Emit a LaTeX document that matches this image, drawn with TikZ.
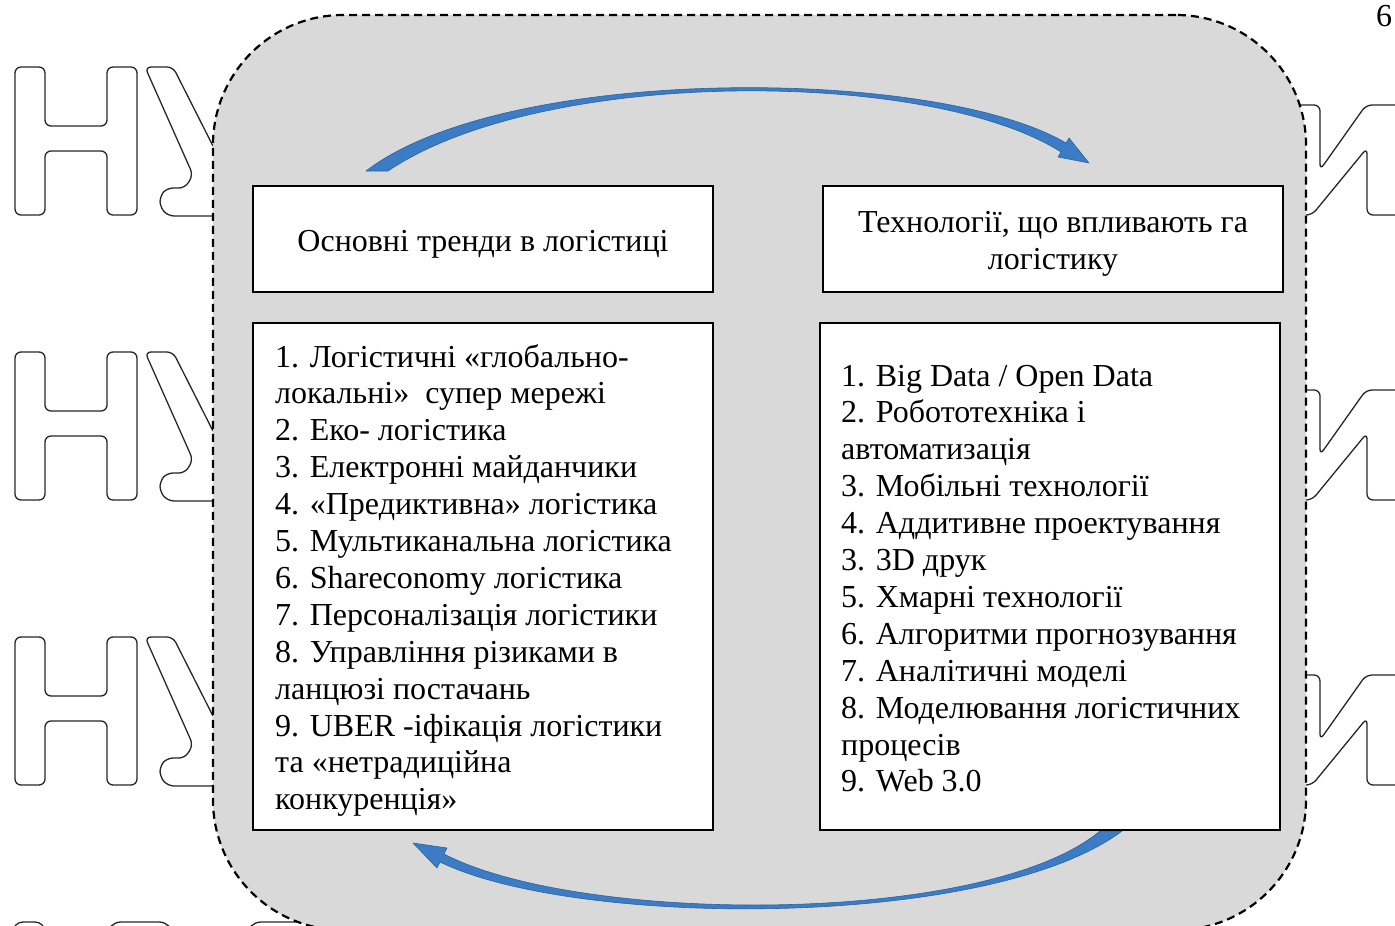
\documentclass[tikz,border=0pt]{standalone}
\usepackage{fontspec}
\setmainfont{Liberation Serif}
\usetikzlibrary{calc}

\definecolor{panelgray}{HTML}{D9D9D9}
\definecolor{arrowblue}{HTML}{3B7CC4}
\definecolor{arrowedge}{HTML}{2C63A0}
\definecolor{markink}{HTML}{262626}

\tikzset{
  panel/.style={fill=panelgray, draw=black, line width=2.2pt,
                dash pattern=on 8pt off 5pt, rounded corners=130pt, inner sep=0pt},
  box/.style={draw=black, line width=2pt, fill=white, inner sep=0pt},
  headtext/.style={anchor=base, inner sep=0pt, font=\fontsize{32}{37.5}\selectfont},
  listtext/.style={anchor=base west, inner sep=0pt, font=\fontsize{32}{36.9}\selectfont},
  flow/.style={fill=arrowblue, draw=arrowedge, line width=0.6pt, line join=round},
  wmark/.style={draw=markink, line width=1.3pt, rounded corners=6pt}
}

\begin{document}
\begin{tikzpicture}[x=1pt,y=-1pt]
\useasboundingbox (0,0) rectangle (1395,926);

% outlined background lettering
\foreach \r in {0,285,570}{
  % Н
  \draw[wmark] (15,67+\r) -- (45,67+\r) -- (45,126+\r) -- (107,126+\r) -- (107,67+\r)
    -- (137,67+\r) -- (137,215+\r) -- (107,215+\r) -- (107,151+\r) -- (45,151+\r)
    -- (45,215+\r) -- (15,215+\r) -- cycle;
  % У
  \draw[wmark] (145,67+\r) -- (173,67+\r) -- (215,150+\r) -- (260,150+\r) -- (260,216+\r)
    -- (168,216+\r) -- (160,207+\r) -- (160,196+\r) -- (167,188+\r) -- (185,188+\r)
    -- (193,175+\r) -- cycle;
  % и
  \draw[wmark] (1285,105+\r) -- (1320,105+\r) -- (1320,170+\r) -- (1366,105+\r)
    -- (1402,105+\r) -- (1402,215+\r) -- (1367,215+\r) -- (1367,148+\r)
    -- (1312,215+\r) -- (1285,215+\r) -- cycle;
}
\draw[wmark, rounded corners=10pt] (13,1000) -- (13,922) -- (45,922) -- (45,1000);
\draw[wmark, rounded corners=14pt] (107,1000) -- (107,922) -- (173,922) -- (173,1000);
\draw[wmark, rounded corners=14pt] (247,1000) -- (247,922) -- (327,922) -- (327,1000);

% page number at the corner
\node[listtext] (pageno) at (1376,26) {6};

% shaded frame
\node[panel, minimum width=1093pt, minimum height=915pt] (frame) at (759.5,472.5) {};

% curved flow arrows
\coordinate (topStartOut) at (366,171);
\coordinate (topStartIn)  at (388,171);
\coordinate (topTip)      at (1089,163);
\fill[flow] (topStartOut) .. controls (505,64) and (935,66) .. (1066,143)
  -- (1069,138) -- (topTip) -- (1058,157) -- (1061,152)
  .. controls (930,68.5) and (543,66.5) .. (topStartIn) -- cycle;

\coordinate (botStartOut) at (1122,831);
\coordinate (botStartIn)  at (1100,831);
\coordinate (botTip)      at (413,843);
\fill[flow] (botStartOut) .. controls (990,930) and (575,928) .. (440,862)
  -- (437,868) -- (botTip) -- (447,848) -- (444,854)
  .. controls (580,924.5) and (985,926.5) .. (botStartIn) -- cycle;

% header boxes
\node[box, minimum width=460pt, minimum height=106pt] (headL) at (483,239) {};
\node[headtext] (headLtext) at (483,251) {Основні тренди в логістиці};
\node[box, minimum width=460pt, minimum height=106pt] (headR) at (1053,239) {};
\node[headtext] (headRtext1) at (1053,232) {Технології, що впливають га};
\node[headtext] (headRtext2) at (1053,269) {логістику};

% list boxes
\node[box, minimum width=460pt, minimum height=507pt] (listL) at (483,576.5) {};
\node[box, minimum width=460pt, minimum height=507pt] (listR) at (1050,576.5) {};

\foreach \t [count=\i] in {
  {1. Логістичні «глобально-},
  {локальні»~ супер мережі},
  {2. Еко- логістика},
  {3. Електронні майданчики},
  {4. «Предиктивна» логістика},
  {5. Мультиканальна логістика},
  {6. Shareconomy логістика},
  {7. Персоналізація логістики},
  {8. Управління різиками в},
  {ланцюзі постачань},
  {9. UBER -іфікація логістики},
  {та «нетрадиційна},
  {конкуренція»}}
  \node[listtext] (L\i) at (275,{367+(\i-1)*36.9}) {\t};

\foreach \t [count=\i] in {
  {1. Big Data / Open Data},
  {2. Робототехніка і},
  {автоматизація},
  {3. Мобільні технології},
  {4. Аддитивне проектування},
  {3. 3D друк},
  {5. Хмарні технології},
  {6. Алгоритми прогнозування},
  {7. Аналітичні моделі},
  {8. Моделювання логістичних},
  {процесів},
  {9. Web 3.0}}
  \node[listtext] (R\i) at (841,{386+(\i-1)*36.9}) {\t};

\end{tikzpicture}
\end{document}
